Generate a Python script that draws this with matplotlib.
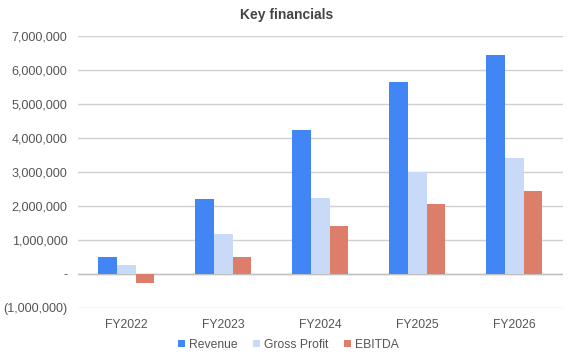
import numpy as np
import matplotlib.pyplot as plt
from matplotlib.ticker import FuncFormatter

plt.rcParams['font.family'] = ['Liberation Sans', 'DejaVu Sans']

# --- data ---
years = ['FY2022', 'FY2023', 'FY2024', 'FY2025', 'FY2026']
revenue = [510000, 2215000, 4245000, 5660000, 6450000]
gross_profit = [275000, 1186000, 2245000, 2990000, 3420000]
ebitda = [-255000, 510000, 1420000, 2070000, 2450000]

series = [('Revenue', revenue, '#4285F4'),
          ('Gross Profit', gross_profit, '#C9DAF8'),
          ('EBITDA', ebitda, '#DD7E6B')]

def fmt(v, pos):
    if abs(v) < 1:
        return '-'
    if v < 0:
        return '({:,.0f})'.format(-v)
    return '{:,.0f}'.format(v)

fig = plt.figure(figsize=(5.73, 3.61), dpi=100)
ax = fig.add_axes([0.136, 0.147, 0.846, 0.753])

x = np.arange(len(years))
w = 0.193
for i, (name, vals, col) in enumerate(series):
    ax.bar(x + (i - 1) * w, vals, width=w, color=col, label=name, zorder=3)

ax.set_ylim(-1000000, 7000000)
ax.set_xlim(-0.5, len(years) - 0.5)
ax.set_yticks(np.arange(-1000000, 7000001, 1000000))
ax.yaxis.set_major_formatter(FuncFormatter(fmt))
ax.set_xticks(x)
ax.set_xticklabels(years)
ax.grid(axis='y', color='#d0d0d0', linewidth=1, zorder=0)
ax.axhline(0, color='#c0c0c0', linewidth=1, zorder=2)
for s in ax.spines.values():
    s.set_visible(False)
ax.tick_params(axis='y', length=0, labelsize=9.1, colors='#555555', pad=7.5)
ax.tick_params(axis='x', length=0, labelsize=8.7, colors='#555555', pad=8)

fig.text(0.5, 0.958, 'Key financials', ha='center', va='center',
         fontsize=10, fontweight='bold', color='#444444')

fig.legend(loc='center', bbox_to_anchor=(0.503, 0.045), ncol=3, frameon=False,
           fontsize=8.7, handlelength=0.6, handleheight=0.6, handletextpad=0.3,
           columnspacing=1.3, labelcolor='#555555')

fig.savefig('out.png', dpi=100)
